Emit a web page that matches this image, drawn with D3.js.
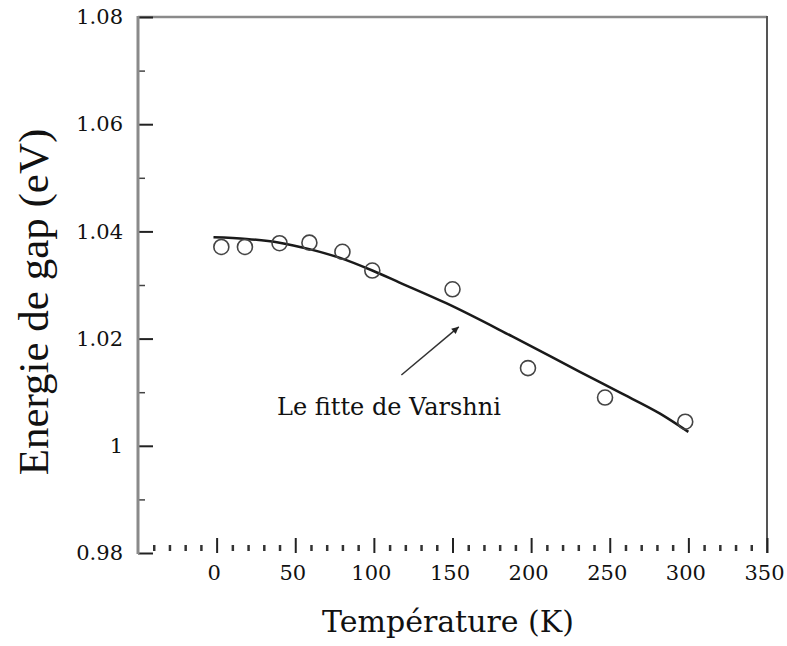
<!DOCTYPE html>
<html><head><meta charset="utf-8">
<script src="https://cdn.jsdelivr.net/npm/d3@7"></script>
<style>body{margin:0;background:#fff}svg{display:block}</style>
</head><body>
<svg id="c" width="787" height="646"></svg>
<script>
// Measured data (temperature K, gap energy eV)
const measT = [3, 18, 40, 59, 80, 99, 150, 198, 247, 298];
const measE = [1.0371, 1.0371, 1.0378, 1.0379, 1.0362, 1.0327, 1.0292, 1.0145, 1.0090, 1.0045];
// Varshni fit curve
const fitT = [-2, 19, 40, 59, 78, 99, 116, 146, 188, 231, 256, 282, 300];
const fitE = [1.0389, 1.0386, 1.0379, 1.0367, 1.0351, 1.0327, 1.0305, 1.0266, 1.0204, 1.0138, 1.0100, 1.0060, 1.0026];
const xTicks = [0, 50, 100, 150, 200, 250, 300, 350];
const xTickLabels = ["0", "50", "100", "150", "200", "250", "300", "350"];
const yTicks = [0.98, 1.00, 1.02, 1.04, 1.06, 1.08];
const yTickLabels = ["0.98", "1", "1.02", "1.04", "1.06", "1.08"];
const xMinor = [-40,-30,-20,-10,10,20,30,40,60,70,80,90,110,120,130,140,160,170,180,190,210,220,230,240,260,270,280,290,310,320,330,340];
const yMinor = [0.99, 1.01, 1.03, 1.05, 1.07];
const arrowFrom = [117.5, 1.0132];
const arrowTo = [154, 1.0222];
const annotation = "Le fitte de Varshni";
const xTitle = "Température (K)";
const yTitle = "Energie de gap (eV)";

const svg = d3.select("#c");
const L = 138, T = 17, R = 767, B = 553;
const x = d3.scaleLinear().domain([-50, 350]).range([L, R]);
const y = d3.scaleLinear().domain([0.98, 1.08]).range([B, T]);

svg.append("defs").append("marker")
  .attr("id", "ah").attr("viewBox", "0 0 10 10").attr("refX", 10).attr("refY", 5)
  .attr("markerWidth", 12).attr("markerHeight", 7).attr("markerUnits", "userSpaceOnUse")
  .attr("orient", "auto")
  .append("path").attr("d", "M0,0 L10,5 L0,10 Z").attr("fill", "#222");

// Frame
svg.append("line").attr("x1", L).attr("x2", R).attr("y1", T).attr("y2", T)
  .attr("stroke", "#8a8a8a").attr("stroke-width", 2.5);
svg.append("line").attr("x1", R).attr("x2", R).attr("y1", T - 1).attr("y2", B)
  .attr("stroke", "#555").attr("stroke-width", 2);

// Y axis
const yAxis = svg.append("g").attr("transform", `translate(${L},0)`)
  .call(d3.axisLeft(y).tickValues(yTicks).tickSizeInner(-15).tickSizeOuter(0).tickPadding(15)
    .tickFormat((d, i) => yTickLabels[i]));
yAxis.select(".domain").remove();
yAxis.selectAll(".tick line").attr("stroke", "#222").attr("stroke-width", 2);
yAxis.selectAll(".tick text").attr("font-family", "DejaVu Serif").attr("font-size", 21).attr("fill", "#111");
svg.append("g").attr("transform", `translate(${L},0)`)
  .call(d3.axisLeft(y).tickValues(yMinor).tickSizeInner(-7).tickSizeOuter(0).tickFormat(""))
  .call(g => g.select(".domain").remove())
  .selectAll(".tick line").attr("stroke", "#444").attr("stroke-width", 1.5);
svg.append("line").attr("x1", L).attr("x2", L).attr("y1", T - 1).attr("y2", B + 1)
  .attr("stroke", "#8a8a8a").attr("stroke-width", 3);

// X axis
const xAxis = svg.append("g").attr("transform", `translate(0,${B})`)
  .call(d3.axisBottom(x).tickValues(xTicks).tickSizeInner(-15).tickSizeOuter(0).tickPadding(12)
    .tickFormat((d, i) => xTickLabels[i]));
xAxis.select(".domain").remove();
xAxis.selectAll(".tick line").attr("stroke", "#222").attr("stroke-width", 2);
xAxis.selectAll(".tick text").attr("font-family", "DejaVu Serif").attr("font-size", 21)
  .attr("fill", "#111").attr("dx", -3);
svg.append("g").attr("transform", `translate(0,${B - 2})`)
  .call(d3.axisBottom(x).tickValues(xMinor).tickSizeInner(-6).tickSizeOuter(0).tickFormat(""))
  .call(g => g.select(".domain").remove())
  .selectAll(".tick line").attr("stroke", "#333").attr("stroke-width", 2.5);

// Fit curve
const fit = fitT.map((t, i) => [t, fitE[i]]);
svg.append("path").datum(fit)
  .attr("d", d3.line().x(d => x(d[0])).y(d => y(d[1])).curve(d3.curveMonotoneX))
  .attr("fill", "none").attr("stroke", "#1a1a1a").attr("stroke-width", 2.5);

// Measured points
svg.append("g").selectAll("circle").data(measT.map((t, i) => [t, measE[i]])).join("circle")
  .attr("cx", d => x(d[0])).attr("cy", d => y(d[1])).attr("r", 7.5)
  .attr("fill", "none").attr("stroke", "#444").attr("stroke-width", 1.6);

// Arrow + annotation
svg.append("line")
  .attr("x1", x(arrowFrom[0])).attr("y1", y(arrowFrom[1]))
  .attr("x2", x(arrowTo[0])).attr("y2", y(arrowTo[1]))
  .attr("stroke", "#333").attr("stroke-width", 1.5).attr("marker-end", "url(#ah)");
svg.append("text").attr("x", 277).attr("y", 415)
  .attr("font-family", "DejaVu Serif").attr("font-size", 24).attr("fill", "#111")
  .text(annotation);

// Titles
svg.append("text").attr("x", 448).attr("y", 632).attr("text-anchor", "middle")
  .attr("font-family", "DejaVu Serif").attr("font-size", 30).attr("fill", "#111").text(xTitle);
svg.append("text").attr("transform", "translate(48,302) rotate(-90)").attr("text-anchor", "middle")
  .attr("font-family", "Liberation Serif").attr("font-size", 43).attr("fill", "#111").text(yTitle);
</script>
</body></html>
